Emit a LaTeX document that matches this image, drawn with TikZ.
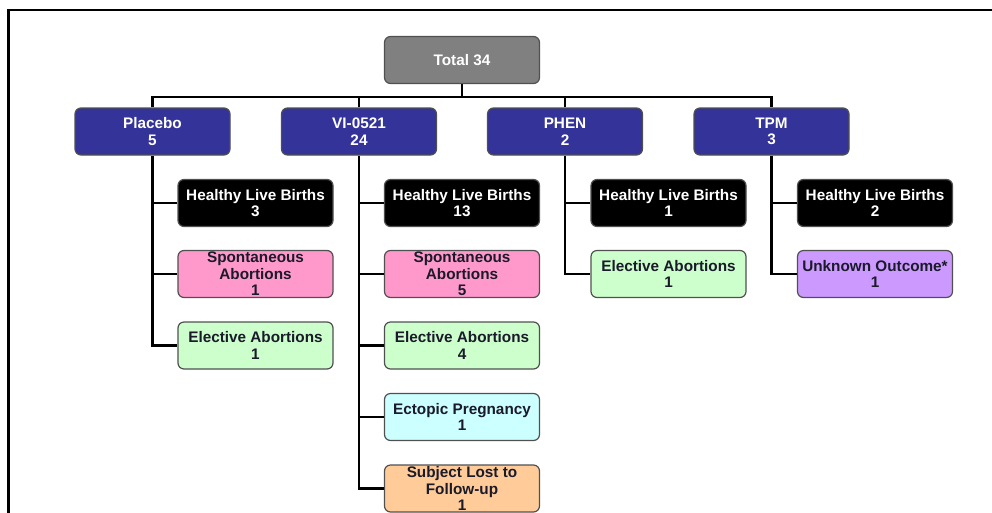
\documentclass[tikz,border=0pt]{standalone}
\usepackage{fontspec}
\setmainfont{Liberation Sans}
\definecolor{navy}{HTML}{333399}
\definecolor{pinkb}{HTML}{FF99CC}
\definecolor{greenb}{HTML}{CCFFCC}
\definecolor{cyanb}{HTML}{CCFFFF}
\definecolor{orangeb}{HTML}{FFCC99}
\definecolor{purpleb}{HTML}{CC99FF}
\definecolor{grayb}{HTML}{808080}
\definecolor{edge}{HTML}{505050}
\definecolor{dtext}{HTML}{1A1A2A}
\begin{document}
\begin{tikzpicture}[x=1pt,y=-1pt,
  box/.style={draw=edge, line width=1.2pt, rounded corners=6pt, minimum width=155pt, minimum height=47pt,
    inner xsep=1pt, inner ysep=0pt, align=center, font=\fontsize{15.3}{16.5}\selectfont\bfseries},
  topbox/.style={box, fill=grayb, text=white},
  grpbox/.style={box, fill=navy, text=white},
  hlb/.style={box, fill=black, text=white},
  spb/.style={box, fill=pinkb, text=dtext},
  elb/.style={box, fill=greenb, text=dtext},
  ecb/.style={box, fill=cyanb, text=dtext},
  lfb/.style={box, fill=orangeb, text=dtext},
  unb/.style={box, fill=purpleb, text=dtext},
  conn/.style={line width=2.8pt, black},
]
\useasboundingbox (0,0) rectangle (992,512);
\draw[line width=2.2pt] (8.5,513) -- (8.5,10) -- (993,10);

\node[topbox] (total) at (462,60) {Total 34};
\node[grpbox] (pl) at (152.5,131.5) {Placebo\\5};
\node[grpbox] (vi) at (359,131.5) {VI-0521\\24};
\node[grpbox] (ph) at (565,131.5) {PHEN\\2};
\node[grpbox] (tp) at (771.5,131.5) {TPM\\3};

\node[hlb] (plh) at (255.5,203) {Healthy Live Births\\3};
\node[spb] (pls) at (255.5,274) {Spontaneous\\Abortions\\1};
\node[elb] (ple) at (255.5,345.5) {Elective Abortions\\1};

\node[hlb] (vih) at (462,203) {Healthy Live Births\\13};
\node[spb] (vis) at (462,274) {Spontaneous\\Abortions\\5};
\node[elb] (vie) at (462,345.5) {Elective Abortions\\4};
\node[ecb] (vic) at (462,417) {Ectopic Pregnancy\\1};
\node[lfb] (vil) at (462,488.5) {Subject Lost to\\Follow-up\\1};

\node[hlb] (phh) at (668.5,203) {Healthy Live Births\\1};
\node[elb] (phe) at (668.5,274) {Elective Abortions\\1};

\node[hlb] (tph) at (875,203) {Healthy Live Births\\2};
\node[unb] (tpu) at (875,274) {Unknown Outcome*\\1};

\coordinate (bus) at (0,97);
\draw[conn] (total.south) -- (total.south |- bus);
\draw[conn] (pl.north) -- (pl.north |- bus) -| (tp.north);
\draw[conn] (vi.north) -- (vi.north |- bus);
\draw[conn] (ph.north) -- (ph.north |- bus);

\draw[conn] (pl.south) |- (ple.west);
\draw[conn] (pl.south |- plh.west) -- (plh.west);
\draw[conn] (pl.south |- pls.west) -- (pls.west);

\draw[conn] (vi.south) |- (vil.west);
\draw[conn] (vi.south |- vih.west) -- (vih.west);
\draw[conn] (vi.south |- vis.west) -- (vis.west);
\draw[conn] (vi.south |- vie.west) -- (vie.west);
\draw[conn] (vi.south |- vic.west) -- (vic.west);

\draw[conn] (ph.south) |- (phe.west);
\draw[conn] (ph.south |- phh.west) -- (phh.west);

\draw[conn] (tp.south) |- (tpu.west);
\draw[conn] (tp.south |- tph.west) -- (tph.west);
\end{tikzpicture}
\end{document}
